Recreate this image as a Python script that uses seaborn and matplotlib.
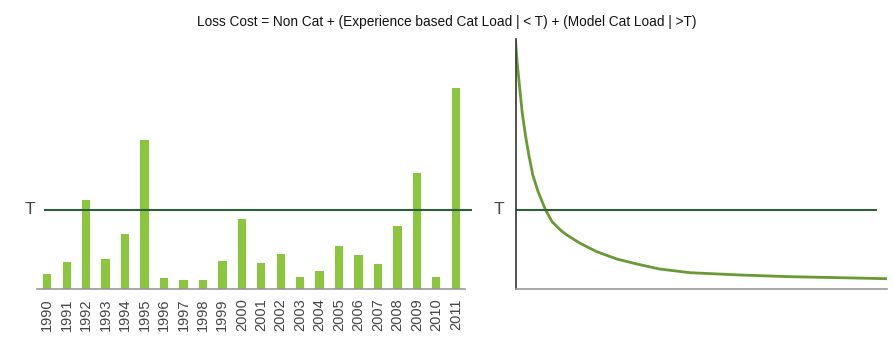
import matplotlib
matplotlib.use("Agg")
import matplotlib.pyplot as plt
import seaborn as sns

# bar heights (pixels above baseline)
years = [str(y) for y in range(1990, 2012)]
losses = [15.3, 27, 89.3, 30, 55.3, 149.3, 11.7, 9.3, 9.3, 28.3, 70.3,
          26.7, 35.3, 12.7, 18.3, 43.3, 34.3, 25.3, 63.7, 116.3, 12, 201]
threshold = 79.3

# exceedance-style curve on the right
curve_x = [0, 1.6, 3.9, 6.6, 9.9, 13.3, 17.3, 22.6, 30.1, 36.6, 44.9, 51.3,
           64.6, 81.3, 101.3, 121.3, 143.9, 174.6, 224.6, 274.6, 324.6, 371.3]
curve_y = [249, 227.3, 204, 177.3, 154, 134, 114, 97.3, 79, 67.3, 59, 54,
           45.7, 37.3, 30, 25, 20, 16.3, 14, 12.3, 11.3, 10.3]

title = "Loss Cost = Non Cat + (Experience based Cat Load | < T) + (Model Cat Load | >T)"

BAR = "#8cc63f"
TLINE = "#2d5e3a"
CURVE = "#6a9a35"
TEXT = "#444444"

sns.set_style("white")
plt.rcParams["font.family"] = ["Liberation Sans", "DejaVu Sans"]

W, H = 895, 355
fig = plt.figure(figsize=(W / 100, H / 100), dpi=100)

# left: yearly bars
base = 289.3
ax1 = fig.add_axes([37 / W, (H - base) / H, 435.3 / W, 210 / H])
sns.barplot(x=years, y=losses, color=BAR, width=0.43, saturation=1,
            linewidth=0, ax=ax1)
ax1.set_xlim(-0.53, 21.85)
ax1.set_ylim(0, 210)
ax1.hlines(threshold, -0.17, 21.83, color=TLINE, lw=1.5)
sns.despine(ax=ax1, left=True)
ax1.spines["bottom"].set_bounds(-0.53, 21.48)
ax1.spines["bottom"].set_color("#999999")
ax1.spines["bottom"].set_linewidth(1.2)
ax1.set_yticks([])
ax1.tick_params(axis="x", length=0, pad=6.5, labelsize=10.5, labelcolor=TEXT,
                labelrotation=90)
ax1.text(-0.87, threshold, "T", ha="center", va="center", fontsize=12.5, color=TEXT)

# right: curve
ax2 = fig.add_axes([515.5 / W, (H - 289) / H, 371.5 / W, 250 / H])
sns.lineplot(x=curve_x, y=curve_y, color=CURVE, lw=2, ax=ax2)
ax2.set_xlim(0, 371.5)
ax2.set_ylim(0, 250)
ax2.hlines(threshold, 0, 361.2, color=TLINE, lw=1.5)
sns.despine(ax=ax2)
ax2.spines["left"].set_color("#333333")
ax2.spines["bottom"].set_color("#999999")
ax2.spines["left"].set_linewidth(1.2)
ax2.spines["bottom"].set_linewidth(1.2)
ax2.set_xticks([])
ax2.set_yticks([])
ax2.text(-17, threshold, "T", ha="center", va="center", fontsize=12.5, color=TEXT)

fig.text(446.5 / W, 1 - 22 / H, title, ha="center", va="center",
         fontsize=9.8, color="#111111")

fig.savefig("out.png", dpi=100)
